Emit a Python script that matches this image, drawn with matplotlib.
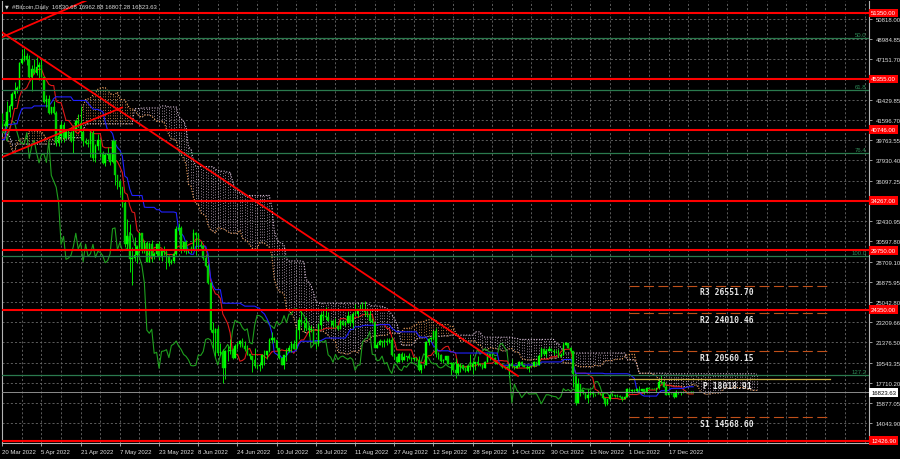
import numpy as np
import pandas as pd
import matplotlib
matplotlib.use("Agg")
import matplotlib.pyplot as plt
import matplotlib.transforms as mtransforms

# daily bars 2022: (high, low, close); open = previous close
jan = [(47827,46288,47686),(47944,46718,47345),(47556,45704,46458),(47506,45516,45897),(47036,42645,43569),(43749,42500,43160),(43145,40672,41558),
       (42228,40610,41734),(42786,41268,41912),(42199,39796,41822),(43001,41267,42736),(44278,42528,43949),(44136,42315,42591),(43346,41795,43099),
       (43418,42637,43177),(43434,42691,43113),(43180,41566,42250),(42663,41301,42375),(42581,41139,41744),(43413,40631,40680),(41060,35440,36457),
       (36835,34019,35030),(36499,34655,36276),(37247,33184,36654),(37544,35780,36954),(38919,36245,36852),(37235,35597,37138),(38030,36437,37784),
       (38647,37478,38138),(38356,37399,37917),(38709,36693,38483)]
feb = [(39265,38037,38743),(38833,36833,36952),(37387,36292,37154),(41687,37090,41501),(41913,40984,41441),(42500,41188,42412),(44401,42022,43841),
       (45293,42839,44118),(44764,43221,44338),(45661,43416,43565),(43857,42025,42407),(42960,41852,42244),(42719,41860,42197),(42830,41612,42586),
       (44701,42553,44575),(44518,43371,43961),(44096,40150,40538),(40934,39602,40030),(40424,39673,40122),(40166,38096,38431),(39395,36840,37075),
       (38394,36396,38286),(39176,37050,37296),(38948,34359,38332),(39667,38036,39214),(40061,38662,39105),(39771,37124,37710),(43700,37468,43194)]
mar = [(44957,42882,44354),(45309,43416,43924),(44081,41895,42452),(42494,38661,39138),(39558,38801,39400),(39617,38093,38420),(39504,37224,37988),
       (39308,37894,38730),(42518,38702,41941),(41922,38615,39439),(40208,38236,38794),(39328,38719,38904),(39226,37648,37849),(39822,37596,39666),
       (39780,38173,39338),(41645,38946,41143),(41463,40569,40951),(42284,40227,41801),(42351,41628,42191),(42281,40987,41247),(41499,40544,41077),
       (43300,40935,42358),(43026,41907,42893),(44200,42573,43960),(45094,43656,44348),(44746,44111,44500),(46876,44447,46820),(48086,46665,47128),
       (48190,46984,47465),(47689,46609,47062),(47556,45266,45538)]
apr = [(46648,44280,46281),(47182,45834,45868),(47349,45717,46453),(46859,45220,46622),(47148,45492,45555),(45498,43119,43207),(43885,42791,43503),
       (43904,42176,42287),(42789,42142,42782),(43341,42140,42207),(42415,39274,39521),(40670,39241,40127),(41515,39611,41166),(41463,39656,39936),
       (40685,39842,40553),(40678,40052,40424),(40585,39630,39716),(41071,38593,40826),(41719,40571,41502),(42126,40942,41374),(42925,39795,40527),
       (40803,39280,39740),(39942,39396,39478),(39887,39181,39469),(40612,38223,40458),(40766,37872,38117),(39427,37808,39241),(40338,38897,39773),
       (39912,38223,38609),(38766,37590,37714)]
may = [(38604,37408,38469),(39132,38097,38529),(38612,37545,37750),(39919,37685,39698),(39803,35653,36575),(36602,35298,36040),(36091,34816,35501),
       (35487,33738,34059),(34222,30084,30296),(32624,29764,31022),(32130,27760,28936),(30020,26560,29047),(30931,28790,29283),(30281,28640,30101),
       (31399,29530,31305),(31255,29500,29862),(30712,29495,30425),(30633,28665,28720),(30497,28693,30315),(30722,28735,29201),(29578,28963,29445),
       (30444,29271,30293),(30623,28830,29110),(29794,28787,29655),(30166,29308,29562),(29827,28030,29267),(29332,28295,28627),(28983,28504,28814),
       (29516,28623,29445),(31960,29330,31726),(32223,31222,31792)]
jun = [(31948,29476,29799),(30633,29621,30467),(30675,29401,29705),(29915,29540,29832),(30140,29527,29906),(31694,29879,31371),(31458,29348,31155),
       (31299,29896,30214),(30639,29972,30112),(30268,28910,29083),(29423,28204,28360),(28521,26646,26762),(26850,22342,22487),(23248,20846,22206),
       (22658,20126,22572),(22910,20257,20381),(21343,20247,20471),(20791,17653,19017),(20716,18000,20553),(21024,19648,20599),(21674,20364,20711),
       (20826,19825,19987),(21190,19917,21085),(21432,20774,21231),(21584,20928,21502),(21810,20998,21028),(21464,20560,20735),(21145,20249,20280),
       (20304,19883,20105),(20161,18710,19785)]
jul = [(20857,19000,19269),(19365,18993,19243),(19598,18813,19297),(20286,19073,20231),(20667,19351,20191),(20626,19834,20548),(21747,20479,21637),
       (22324,21337,21731),(21836,21443,21592),(21601,20711,20860),(20860,19899,19970),(20031,19297,19323),(20233,18939,20212),(20835,19650,20569),
       (21147,20467,20836),(21523,20512,21190),(21637,20752,20779),(22661,20770,22485),(23724,21660,23389),(24251,22952,23231),(23390,22401,23164),
       (23729,22458,22714),(22981,21974,22465),(23003,22313,22609),(22630,21296,21361),(21317,20730,21239),(23100,21071,22930),(24151,22624,23843),
       (24351,23454,23805),(24602,23522,23657),(24157,23307,23336)]
aug = [(23448,22895,23314),(23452,22714,22978),(23602,22739,22846),(22998,22474,22630),(23408,22602,23289),(23298,22947,22961),(23311,22879,23175),
       (24208,23144,23810),(23882,22902,23164),(24183,22722,23947),(24858,23903,23957),(24424,23646,24402),(24871,24352,24424),(25047,24305,24319),
       (25136,23767,24136),(24220,23722,23883),(24418,23248,23336),(23568,23178,23213),(23198,20856,20877),(21367,20852,21166),(21681,21117,21534),
       (21505,20956,21398),(21670,20947,21529),(21814,21139,21368),(21804,21329,21559),(21846,20171,20241),(20365,19872,20037),(20129,19536,19555),
       (20409,19616,20285),(20514,19585,19812),(20448,19812,20050)]
sep = [(20165,19667,20127),(20380,19843,19969),(20014,19694,19832),(20006,19671,19986),(20012,19674,19813),(20159,18760,18837),(19388,18558,19290),
       (19453,19011,19329),(21469,19321,21381),(21779,21104,21680),(21826,21389,21769),(22413,21608,22371),(22660,20077,20296),(20521,19825,20241),
       (20323,19579,19701),(19865,19509,19772),(20158,19763,20127),(20097,19387,19419),(19630,18371,19544),(19583,18770,18891),(19930,18156,18547),
       (19479,18420,19413),(19502,18722,19297),(19305,18887,18937),(19134,18710,18802),(19307,18700,19222),(20316,18901,19110),(19678,18516,19426),
       (19610,18861,19573),(20175,19236,19431)]
oct_ = [(19475,19214,19312),(19399,18997,19044),(19656,19027,19623),(20440,19622,20336),(20355,19806,20160),(20410,19946,19955),(20016,19400,19546),
        (19608,19367,19416),(19512,19362,19446),(19507,19038,19141),(19212,18923,19051),(19200,18997,19157),(19458,18192,19382),(19888,19103,19185),
        (19214,18980,19067),(19360,19075,19268),(19652,19180,19550),(19688,19205,19334),(19333,19097,19139),(19331,18935,19053),(19222,18700,19172),
        (19231,19131,19208),(19675,19113,19567),(19588,19185,19345),(20348,19320,20095),(20990,20059,20771),(20829,20252,20295),(20747,20034,20591),
        (21007,20564,20809),(20901,20557,20627),(20799,20264,20495)]
nov = [(20643,20378,20485),(20758,20079,20159),(20375,20061,20209),(21409,20202,21148),(21453,21143,21300),(21355,20889,20905),(20973,20428,20591),
       (20607,17311,18541),(18541,15682,15880),(18154,15828,17586),(17603,16456,17034),(17052,16690,16800),(16890,16213,16353),(17116,15872,16618),
       (17052,16591,16885),(16935,16447,16669),(16722,16467,16688),(16949,16675,16697),(16801,16575,16712),(16752,16191,16291),(16275,15593,15787),
       (16236,15650,16189),(16643,16154,16610),(16792,16485,16604),(16571,16393,16522),(16653,16431,16458),(16599,16416,16428),(16478,16034,16213),
       (16523,16195,16442),(17220,16436,17168)]
dec = [(17231,16871,16968),(17097,16809,17088),(17145,16898,16908),(17184,16898,17130),(17389,16946,16975),(17108,16928,17089),(17094,16692,16836),
       (17283,16751,17224),(17339,17123,17128),(17216,17094,17128),(17258,17090,17105),(17226,16878,17184),(18001,17102,17791),(18352,17689,17808),
       (17838,17284,17356),(17514,16591,16632),(16796,16587,16776),(16797,16700,16738),(16827,16326,16439),(17043,16414,16906),(16896,16705,16818),
       (16873,16591,16830),(16958,16780,16832),(16868,16793,16837),(16861,16729,16833),(16925,16782,16830.68),(16962.88,16807.28,16823.63)]

title_text = "#Bitcoin,Daily  16830.68 16962.88 16807.28 16823.63"
last_price = 16823.63

# horizontal levels
red_levels = [51350.00, 45355.00, 40746.00, 34267.00, 29750.00, 24350.00, 12426.90]
fib_names = ["50.0", "61.8", "76.4", "100.0", "127.2"]
fib_levels = [49075, 44387, 38586, 29210, 18402]
pivot_names = ["R3", "R2", "R1", "P", "S1"]
pivot_levels = [26551.70, 24010.46, 20560.15, 18018.91, 14568.60]

# trend lines (day from 20 Mar 2022, price)
trend_down = [(-0.94, 49712), (210.5, 18317)]
channel_low = [(-0.94, 38155), (48.9, 42750)]
channel_high = [(-0.94, 49075), (37.8, 52830)]

# price grid; labels hidden behind red tags are left blank
ytick_vals = [50818.00, 48984.85, 47151.70, 45318.55, 43429.85, 41596.70, 39763.55,
              37930.40, 36097.25, 34264.10, 32430.95, 30597.80, 28709.10, 26875.95,
              25042.80, 23209.66, 21376.50, 19543.35, 17710.20, 15877.05, 14043.90]
hidden_ticks = [45318.55, 34264.10]
date_labels = ["20 Mar 2022", "5 Apr 2022", "21 Apr 2022", "7 May 2022", "23 May 2022", "8 Jun 2022",
               "24 Jun 2022", "10 Jul 2022", "26 Jul 2022", "11 Aug 2022", "27 Aug 2022", "12 Sep 2022",
               "28 Sep 2022", "14 Oct 2022", "30 Oct 2022", "15 Nov 2022", "1 Dec 2022", "17 Dec 2022"]

plt.rcParams['font.family'] = ['Liberation Sans', 'DejaVu Sans']

bars = jan + feb + mar + apr + may + jun + jul + aug + sep + oct_ + nov + dec
high = np.array([b[0] for b in bars], dtype=float)
low = np.array([b[1] for b in bars], dtype=float)
close = np.array([b[2] for b in bars], dtype=float)
openp = np.r_[close[0], close[:-1]]
start = pd.Timestamp("2022-03-20")
dates = pd.date_range("2022-01-01", periods=len(bars), freq="D")
x = np.asarray((dates - start).days, dtype=float)

H = pd.Series(high)
L = pd.Series(low)
tenkan = ((H.rolling(9).max() + L.rolling(9).min()) / 2).values
kijun = ((H.rolling(26).max() + L.rolling(26).min()) / 2).values
span_a = (tenkan + kijun) / 2
span_b = ((H.rolling(52).max() + L.rolling(52).min()) / 2).values

fig = plt.figure(figsize=(9, 4.6), dpi=100, facecolor='black')
ax = fig.add_axes([2/900, 16/460, 867/900, 442/460], facecolor='black')
xmin = -0.12
ax.set_xlim(xmin, xmin + 867/2.45)
ax.set_ylim(12220, 52442)

# grid
grid_days = np.arange(0, 353, 8)
for d in grid_days:
    ax.axvline(d, color='#6a6a6a', lw=0.6, ls=(0, (2.5, 2.5)), zorder=1)
for v in ytick_vals:
    ax.axhline(v, color='#6a6a6a', lw=0.6, ls=(0, (2.5, 2.5)), zorder=1)

# cloud
xc = x + 26
ok = ~np.isnan(span_a) & ~np.isnan(span_b)
bull = span_a >= span_b
cols = np.where(bull, '#f4a460', '#d8bfd8')
ax.vlines(xc[ok], np.minimum(span_a, span_b)[ok], np.maximum(span_a, span_b)[ok],
          colors=cols[ok], linestyles=(0, (1, 1.8)), lw=0.7, alpha=0.7, zorder=2)
ax.plot(xc, span_a, color='#f4a460', ls=(0, (1, 1.5)), lw=0.8, zorder=2)
ax.plot(xc, span_b, color='#d8bfd8', ls=(0, (1, 1.5)), lw=0.8, zorder=2)

# chikou, tenkan, kijun
ax.plot(x - 26, close, color='#1ea01e', lw=0.8, zorder=3)
ax.plot(x, tenkan, color='#e01818', lw=0.8, zorder=3)
ax.plot(x, kijun, color='#2020ff', lw=0.8, zorder=3)

# candles
vis = x >= -2
ax.vlines(x[vis], low[vis], high[vis], color='#00ff00', lw=0.6, zorder=4)
up = close >= openp
body_col = np.where(up, '#00ff00', '#00d000')
bottom = np.minimum(openp, close)
height = np.maximum(np.abs(close - openp), 25)
ax.bar(x[vis], height[vis], bottom=bottom[vis], width=0.62, color=body_col[vis],
       edgecolor=body_col[vis], lw=0.3, zorder=4)

# levels
for v in fib_levels:
    ax.axhline(v, color='#2a7a4e', lw=0.9, zorder=5)
for v in red_levels:
    ax.axhline(v, color='#ff0000', lw=1.5, zorder=6)
ax.axhline(last_price, color='#8c8c8c', lw=0.7, zorder=5)

# monthly pivot lines
piv_start, piv_end = 256, 338
for name, v in zip(pivot_names, pivot_levels):
    if name == "P":
        ax.plot([piv_start, piv_end], [v, v], color='#c8b040', lw=0.9, zorder=5)
        ax.text(286, v - 120, f"P {v:.2f}", color='#e6e6e6', fontsize=5.8, family='DejaVu Sans Mono',
                weight='bold', va='top', ha='left', zorder=7)
    else:
        ax.plot([piv_start, piv_end], [v, v], color='#c0501a', lw=0.8, ls=(0, (9, 4)), zorder=5)
        ax.text(284.8, v - 120, f"{name} {v:.2f}", color='#e6e6e6', fontsize=5.8,
                family='DejaVu Sans Mono', weight='bold', va='top', ha='left', zorder=7)

# trend lines
for seg in (trend_down, channel_low, channel_high):
    ax.plot([seg[0][0], seg[1][0]], [seg[0][1], seg[1][1]], color='#ff0000', lw=1.3, zorder=6)

# fib labels
blend = mtransforms.blended_transform_factory(ax.transAxes, ax.transData)
for name, v in zip(fib_names, fib_levels):
    ax.text(0.997, v + 90, name, transform=blend, color='#2e8b57', fontsize=4.3,
            ha='right', va='bottom', zorder=7)

# axes styling
for s in ax.spines.values():
    s.set_color('#b4b4b4')
    s.set_linewidth(0.8)
ax.spines['top'].set_visible(False)
ax.yaxis.tick_right()
ax.set_yticks(ytick_vals)
ax.set_yticklabels(["" if v in hidden_ticks else f"{v:.2f}" for v in ytick_vals])
tick_days = [(pd.to_datetime(s) - start).days for s in date_labels]
ax.set_xticks(tick_days)
ax.set_xticklabels(date_labels, ha='left')
ax.tick_params(axis='both', colors='#b4b4b4', labelcolor='#e0e0e0', labelsize=4.3,
               length=2.5, width=0.6, pad=1.5)
ax.tick_params(axis='y', pad=2.5)

# price tags on the right axis
for v in red_levels:
    ax.text(1.0025, v, f"{v:.2f}", transform=blend, color='white', fontsize=4.3, ha='left',
            va='center', clip_on=False, zorder=10,
            bbox=dict(boxstyle='square,pad=0.3', fc='#ff0000', ec='none'))
ax.text(1.0025, last_price, f"{last_price:.2f}", transform=blend, color='black', fontsize=4.3,
        ha='left', va='center', clip_on=False, zorder=10,
        bbox=dict(boxstyle='square,pad=0.3', fc='white', ec='none'))

# title
fig.text(5/900, 1 - 7/460, "▼", color='#d8d8d8', fontsize=3.5, va='center', family='DejaVu Sans')
fig.text(12/900, 1 - 7/460, title_text, color='#d8d8d8', fontsize=4.3, va='center')

fig.savefig("out.png", dpi=100, facecolor='black')
